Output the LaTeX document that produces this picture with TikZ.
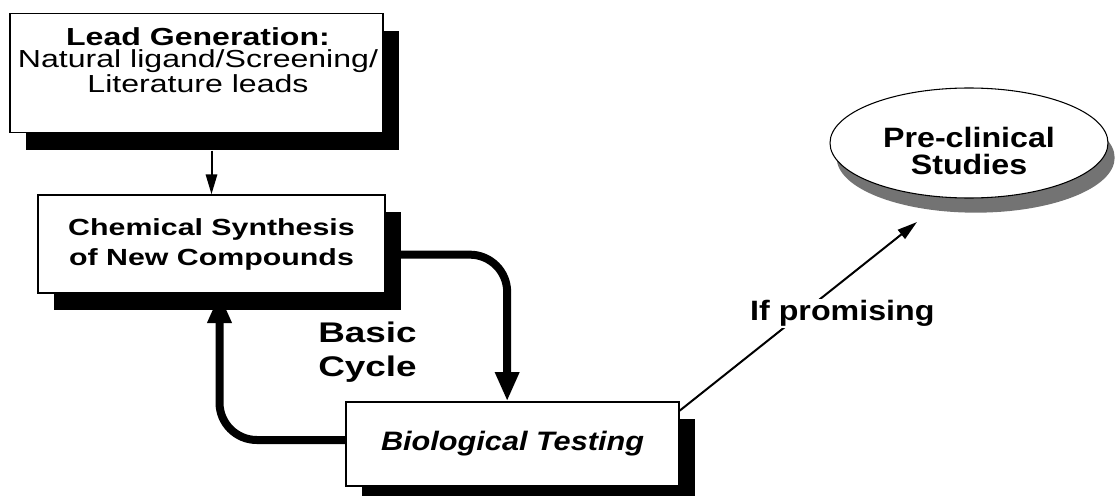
\documentclass[tikz,border=0pt]{standalone}
\usepackage{fontspec}
\setmainfont[FakeStretch=1.15]{Liberation Sans}
\newfontfamily\widefont[FakeStretch=1.3]{Liberation Sans}
\usetikzlibrary{arrows.meta,positioning,shapes.geometric,shadows}
\begin{document}
\begin{tikzpicture}[x=0.75pt,y=-0.75pt,
  box/.style={draw,line width=1pt,fill=white,inner sep=0pt,drop shadow={shadow xshift=12pt,shadow yshift=-13pt,fill=black,opacity=1}},
  oval/.style={ellipse,draw,line width=0.8pt,fill=white,inner sep=0pt,minimum width=208.5pt,minimum height=82.5pt,drop shadow={shadow xshift=5pt,shadow yshift=-11pt,fill=black!55,opacity=1}},
  cyclearrow/.style={line width=6pt,rounded corners=28pt,-{Triangle[length=22pt,width=17pt]}},
  thinarrow/.style={line width=1.5pt,-{Triangle[length=15pt,width=8.5pt]}},
  lbl/.style 2 args={align=center,inner sep=0pt,font=\fontsize{#1}{#2}\selectfont},
  widelbl/.style 2 args={align=center,inner sep=0pt,font=\widefont\fontsize{#1}{#2}\selectfont}]
\useasboundingbox (0,0) rectangle (1115,496);
\node[box,minimum width=279.75pt,minimum height=89.25pt] (lead) at (196.5,73) {};
\node[widelbl={18.5}{17},anchor=north] (leadtxt) at (198,27) {\textbf{Lead Generation:}\\Natural ligand/Screening/\\Literature leads};
\node[box,widelbl={17.5}{22.5},minimum width=260.25pt,minimum height=73.5pt] (chem) at (211.5,244) {\bfseries Chemical Synthesis\\\bfseries of New Compounds};
\node[box,lbl={20}{20},minimum width=249.75pt,minimum height=63pt] (bio) at (512.5,444) {\bfseries\itshape Biological Testing};
\node[oval] (pre) at (969,143) {};
\node[lbl={21}{20.5},font=\fontsize{21}{20.5}\selectfont\bfseries,below=-12pt of pre.center] (pretxt) {Pre-clinical\\Studies};
\node[anchor=west,align=left,inner sep=0pt,font=\widefont\fontsize{21.3}{25.5}\selectfont\bfseries] (cycle) at (318,352) {Basic\\Cycle};
\coordinate (pretip) at (917,222);
\draw[thinarrow,shorten <=13pt] (chem.north |- lead.south) -- (chem.north);
\draw[cyclearrow] ([yshift=-8pt]chem.east) -| ([xshift=-4pt]bio.north);
\draw[cyclearrow] ([yshift=3pt]bio.west) -| ([xshift=6pt]chem.south);
\draw[thinarrow] ([yshift=-7pt]bio.north east) -- (pretip) node[pos=0.5,xshift=33pt,yshift=2pt,fill=white,inner sep=1pt,font=\fontsize{21}{21}\selectfont\bfseries] (ifp) {If promising};
\end{tikzpicture}
\end{document}
